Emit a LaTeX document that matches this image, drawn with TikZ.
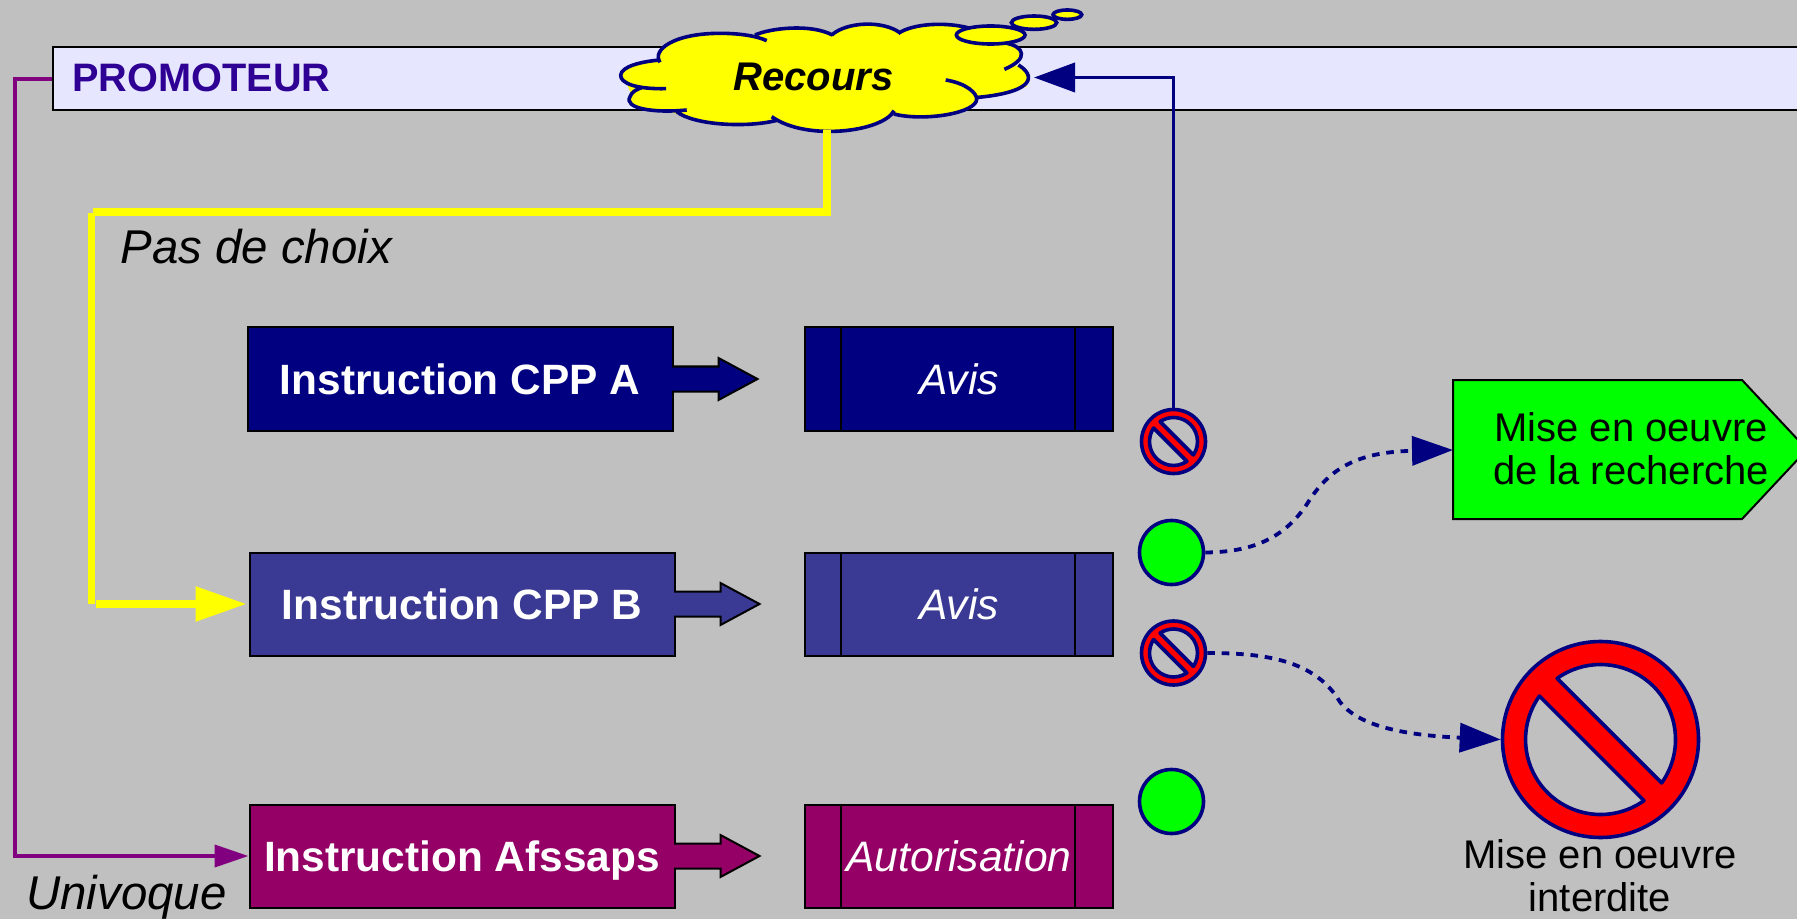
\documentclass[tikz,border=0pt]{standalone}
\usepackage{fontspec}
\setmainfont{Liberation Sans}
\usetikzlibrary{arrows.meta,calc}
\definecolor{bg}{HTML}{C0C0C0}
\definecolor{navyc}{HTML}{000080}
\definecolor{bluec}{HTML}{3A3A94}
\definecolor{magc}{HTML}{940066}
\definecolor{purplec}{HTML}{800080}
\definecolor{barc}{HTML}{E6E6FF}
\definecolor{promc}{HTML}{2E0094}
\definecolor{yel}{RGB}{255,255,0}
\definecolor{grn}{RGB}{0,255,0}
\definecolor{rd}{RGB}{255,0,0}
\def\px{0.5pt}
\tikzset{
  procbox/.style={draw=black,line width=1pt,inner sep=0pt,minimum width=425*\px,minimum height=103*\px,text=white,text height=15pt,text depth=0pt,font=\fontsize{21.2}{24}\selectfont\bfseries},
  avisbox/.style={draw=black,line width=1pt,inner sep=0pt,minimum width=308*\px,minimum height=103*\px,text=white,text height=15pt,text depth=0pt,font=\fontsize{21.3}{24}\selectfont\itshape},
  greenc/.style={circle,draw=navyc,fill=grn,line width=1.8pt,inner sep=0pt,minimum size=64*\px},
  navyline/.style={draw=navyc,line width=1.9pt},
  dashline/.style={navyline,dash pattern=on 3.8pt off 3.4pt,-{Triangle[length=20.5pt,width=14.5pt,fill=navyc]}},
  bubble/.style={fill=yel,draw=navyc,line width=1.8pt},
  txt/.style={inner sep=0pt,font=\fontsize{20}{21.5}\selectfont,align=center},
  slanted/.style={inner sep=0pt,anchor=base west,font=\fontsize{23.7}{26}\selectfont\itshape},
}
% name, x, y, outer diameter, inner radius, half angle of the bar
\newcommand{\nosign}[6]{%
  \node[circle,draw=navyc,fill=rd,line width=1.8pt,inner sep=0pt,minimum size=#4*\px] (#1) at (#2,#3) {};
  \begin{scope}[shift={(#1.center)}]
    \path[fill=bg,draw=navyc,line width=1.8pt,line join=round]
      ({45-#6}:#5) arc[start angle=45-#6,end angle=-135+#6,radius=#5] -- cycle;
    \path[fill=bg,draw=navyc,line width=1.8pt,line join=round]
      ({45+#6}:#5) arc[start angle=45+#6,end angle=225-#6,radius=#5] -- cycle;
  \end{scope}}
% block arrow leaving the east side of box #1
\newcommand{\blockarrow}[2]{%
  \filldraw[fill=#2,draw=black,line width=1pt,line join=miter]
    ($(#1.east)+(-1.5,-12.5)$) -- ++(46.5,0) -- ++(0,-8.5) -- ++(39,21) -- ++(-39,21) -- ++(0,-8.5) -- ++(-46.5,0);}
% process box: the two inner verticals
\newcommand{\avislines}[1]{%
  \draw[black,line width=1pt] ($(#1.north west)+(37,0)$) -- ($(#1.south west)+(37,0)$);
  \draw[black,line width=1pt] ($(#1.north west)+(271,0)$) -- ($(#1.south west)+(271,0)$);}
\begin{document}
\begin{tikzpicture}[x=0.5pt,y=-0.5pt]
\useasboundingbox (0,0) rectangle (1797,919);
\fill[bg] (0,0) rectangle (1797,919);

% bar
\node[draw=black,fill=barc,line width=1pt,inner sep=0pt,minimum width=1760*\px,minimum height=63*\px] (bar) at (933,79) {};
\node[inner sep=0pt,anchor=base west,text=promc,font=\fontsize{19.85}{24}\selectfont\bfseries] (prom) at (72,92) {PROMOTEUR};

% boxes
\node[procbox,fill=navyc] (cppa) at (460,379) {Instruction CPP A};
\node[procbox,fill=bluec] (cppb) at (462,604) {Instruction CPP B};
\node[procbox,fill=magc] (afs) at (462,856) {Instruction Afssaps};
\blockarrow{cppa}{navyc}
\blockarrow{cppb}{bluec}
\blockarrow{afs}{magc}
\node[avisbox,fill=navyc] (avisa) at (959,379) {Avis};
\node[avisbox,fill=bluec] (avisb) at (959,604) {Avis};
\node[avisbox,fill=magc] (auto) at (959,856) {Autorisation};
\avislines{avisa}
\avislines{avisb}
\avislines{auto}

% signs
\nosign{noa}{1173.5}{441.5}{64}{24}{11}
\nosign{nob}{1173.5}{653}{64}{24}{11}
\nosign{nobig}{1600.5}{739.5}{196}{75}{9.6}
\node[greenc] (ga) at (1171.5,552.5) {};
\node[greenc] (gb) at (1171.5,801.5) {};

% green pentagon
\begin{scope}
\clip (0,0) rectangle (1797,919);
\filldraw[fill=grn,draw=black,line width=1pt] (1453,380) -- (1742,380) -- (1807,449.5) -- (1742,519) -- (1453,519) -- cycle;
\end{scope}
\coordinate (go) at (1453,450);
\node[txt] (gotxt) at (1631,449) {Mise en oeuvre\\de la recherche};
\node[txt,anchor=north] (notxt) at (1600,839) {Mise en oeuvre\\interdite};

% cloud
\coordinate (cloudS) at (827,130);
\coordinate (cloudE) at (1034,77.5);
\begin{scope}[x=0.16667pt,y=-0.16667pt,shift={(580*3,0)}]
\fill[yel] (240,185)--(420,105)--(755,105)--(1170,85)--(1280,130)--(1310,200)--(1340,260)--(1190,295)--(940,345)--(750,385)--(580,365)--(300,345)--(160,300)--(130,225)--cycle;
\path[fill=yel,draw=navyc,line width=1.8pt]
 (240,187) .. controls (215,150) and (280,100) .. (420,100) .. controls (480,100) and (530,108) .. (560,122)
 (525,105) .. controls (570,85) and (690,70) .. (757,105)
 (755,105) .. controls (800,65) and (910,60) .. (962,100)
 (955,100) .. controls (1000,70) and (1100,65) .. (1170,85)
 (1280,130) .. controls (1330,140) and (1350,175) .. (1273,208)
 (1315,195) .. controls (1365,225) and (1370,275) .. (1195,292)
 (1097,240) .. controls (1160,250) and (1190,280) .. (1190,297) .. controls (1190,340) and (1030,365) .. (942,342)
 (942,332) .. controls (910,395) and (680,425) .. (575,350)
 (595,360) .. controls (500,385) and (340,375) .. (290,335)
 (320,330) .. controls (220,340) and (130,325) .. (150,290) .. controls (155,275) and (170,268) .. (188,262)
 (258,266) .. controls (170,268) and (120,250) .. (122,225) .. controls (125,200) and (180,185) .. (240,180);
\path[bubble] (1232,105) ellipse[x radius=103,y radius=27];
\path[bubble] (1362,68) ellipse[x radius=68,y radius=20];
\path[bubble] (1462,44) ellipse[x radius=43,y radius=14];
\end{scope}
\node[inner sep=0pt,anchor=base,font=\fontsize{20}{24}\selectfont\bfseries\itshape] (rec) at (813.5,91) {Recours};

% connectors
\draw[draw=purplec,line width=2pt,-{Triangle[length=17pt,width=11pt,fill=purplec]}]
  (bar.west) -- (14.7,79) -- (14.7,856) -- (afs.west);
\draw[navyline,-{Triangle[length=20.5pt,width=14.5pt,fill=navyc]}]
  (noa.north) -- (1173.5,77.5) -- (cloudE);
\draw[yel,line width=3.75pt] (cloudS) -- (827,212) -- (93,212);
\draw[yel,line width=3.75pt] (91.7,213) -- (91.7,604);
\draw[yel,line width=3.75pt,-{Triangle[length=25.5pt,width=16.7pt,fill=yel]},shorten >=1pt]
  (96,604) -- (cppb.west);
\draw[dashline] (ga.east) .. controls (1250,552) and (1283,540) .. (1307,504) .. controls (1328,470) and (1355,452) .. (go);
\draw[dashline] (nob.east) .. controls (1265,653) and (1315,660) .. (1340,702) .. controls (1358,725) and (1400,735) .. (nobig.west);

% labels
\node[slanted] (pas) at (120,264) {Pas de choix};
\node[slanted] (uni) at (26,909) {Univoque};
\end{tikzpicture}
\end{document}
